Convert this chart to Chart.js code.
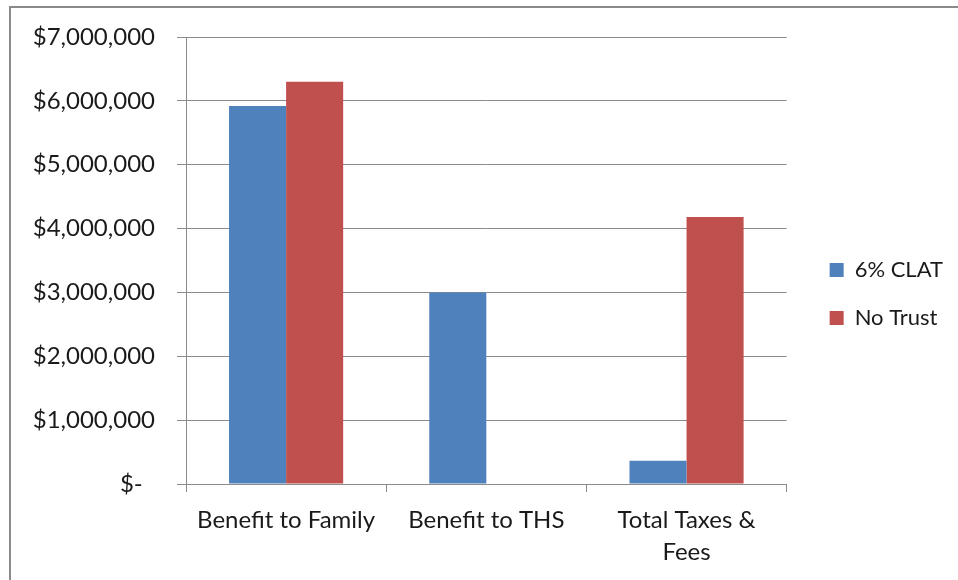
<!DOCTYPE html>
<html>
<head>
<meta charset="utf-8">
<script src="https://cdn.jsdelivr.net/npm/chart.js@4.4.1/dist/chart.umd.min.js"></script>
<style>
  html, body { margin: 0; padding: 0; background: #ffffff; }
  #wrap { position: relative; width: 958px; height: 580px; overflow: hidden; }
  #frame { position: absolute; left: 9px; top: 6px; width: 1200px; height: 1200px;
           border-left: 2px solid #8a8a8a; border-top: 2px solid #8a8a8a; }
  canvas { position: absolute; left: 0; top: 0; }
</style>
</head>
<body>
<div id="wrap">
  <div id="frame"></div>
  <canvas id="c" width="958" height="580"></canvas>
</div>
<script>
const categories = ["Benefit to Family", "Benefit to THS", ["Total Taxes &", "Fees"]];
const seriesNames = ["6% CLAT", "No Trust"];
const clatValues = [5920000, 3000000, 365000];
const noTrustValues = [6300000, 0, 4180000];
const yTickValues = [0, 1000000, 2000000, 3000000, 4000000, 5000000, 6000000, 7000000];

const gridColor = '#8a8a8a';
const textColor = '#1a1a1a';
const fontFamily = 'Lato, "Open Sans", sans-serif';

new Chart(document.getElementById('c'), {
  type: 'bar',
  data: {
    labels: categories,
    datasets: [
      { label: seriesNames[0], data: clatValues, backgroundColor: '#4F81BD', borderWidth: 0, xAxisID: 'x', yAxisID: 'y' },
      { label: seriesNames[1], data: noTrustValues, backgroundColor: '#C0504D', borderWidth: 0, xAxisID: 'x', yAxisID: 'y' }
    ]
  },
  options: {
    responsive: false,
    animation: false,
    devicePixelRatio: 1,
    layout: { padding: { left: 0, top: 8, right: 5, bottom: 0 } },
    datasets: { bar: { barPercentage: 1.0, categoryPercentage: 0.57 } },
    plugins: {
      tooltip: { enabled: false },
      legend: {
        position: 'right',
        align: 'center',
        labels: {
          boxWidth: 14,
          boxHeight: 14,
          padding: 26,
          color: textColor,
          font: { family: fontFamily, size: 22 }
        }
      }
    },
    scales: {
      x: {
        position: 'bottom',
        grid: { display: true, drawOnChartArea: false, drawTicks: true, tickLength: 8, color: gridColor, lineWidth: 1 },
        border: { display: true, color: gridColor, width: 1 },
        ticks: { color: textColor, font: { family: fontFamily, size: 24, lineHeight: 1.35 }, padding: 12, maxRotation: 0, autoSkip: false },
        afterFit: (s) => { s.height = 96; }
      },
      xTop: {
        type: 'linear',
        position: 'top',
        display: true,
        grid: { display: false, drawTicks: false },
        border: { display: false },
        ticks: { display: false },
        afterFit: (s) => { s.height = 29; }
      },
      y: {
        min: 0,
        max: 7000000,
        afterBuildTicks: (s) => { s.ticks = yTickValues.map(v => ({ value: v })); },
        grid: { color: gridColor, lineWidth: 1, drawTicks: true, tickLength: 9 },
        border: { display: true, color: gridColor, width: 1 },
        ticks: {
          color: textColor,
          font: { family: fontFamily, size: 24 },
          padding: 22,
          callback: (v) => v === 0 ? '$-  ' : '$' + Number(v).toLocaleString('en-US')
        },
        afterFit: (s) => { s.width = 186; }
      },
      y2: {
        position: 'right',
        display: true,
        grid: { display: false, drawTicks: false },
        border: { display: false },
        ticks: { display: false },
        afterFit: (s) => { s.width = 17; }
      }
    }
  }
});
</script>
</body>
</html>
